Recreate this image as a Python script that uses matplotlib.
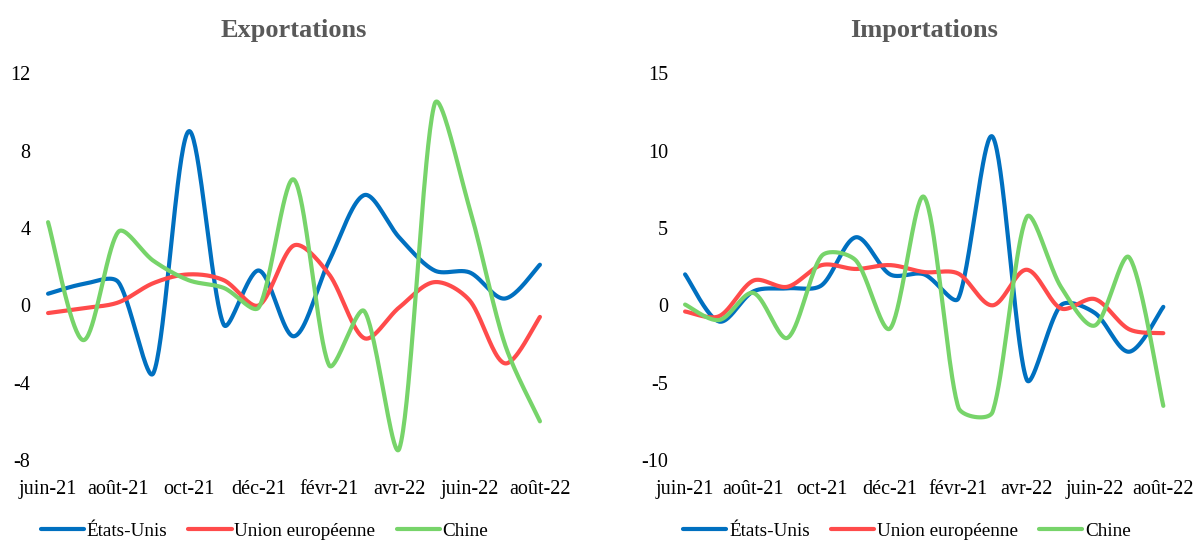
import numpy as np
import matplotlib
matplotlib.use("Agg")
import matplotlib.pyplot as plt

months = ["juin-21", "juil-21", "août-21", "sept-21", "oct-21", "nov-21", "déc-21",
          "janv-22", "févr-21", "mars-22", "avr-22", "mai-22", "juin-22", "juil-22", "août-22"]
tick_labels = ["juin-21", "août-21", "oct-21", "déc-21", "févr-21", "avr-22", "juin-22", "août-22"]
series_names = ["États-Unis", "Union européenne", "Chine"]

exp_us = [0.6, 1.1, 1.2, -3.5, 9.0, -1.0, 1.8, -1.6, 2.3, 5.7, 3.5, 1.8, 1.7, 0.35, 2.1]
exp_eu = [-0.4, -0.15, 0.15, 1.15, 1.6, 1.3, 0.0, 3.1, 1.6, -1.7, -0.1, 1.2, 0.25, -3.0, -0.6]
exp_cn = [4.3, -1.8, 3.8, 2.3, 1.3, 0.9, -0.1, 6.5, -3.1, -0.3, -7.4, 10.4, 5.0, -2.0, -6.0]

imp_us = [2.0, -1.05, 0.9, 1.1, 1.3, 4.4, 2.0, 2.0, 0.45, 10.9, -4.8, 0.0, -0.5, -3.0, -0.1]
imp_eu = [-0.4, -0.7, 1.6, 1.2, 2.6, 2.35, 2.6, 2.15, 2.05, 0.0, 2.3, -0.2, 0.4, -1.55, -1.8]
imp_cn = [0.05, -0.95, 0.8, -2.1, 3.2, 2.9, -1.5, 7.0, -6.6, -6.9, 5.7, 1.2, -1.3, 3.1, -6.5]

colors = ["#0070C0", "#FF4B4B", "#77D46A"]

plt.rcParams['font.family'] = ['Liberation Serif', 'DejaVu Serif']


def smooth_screen(ax, y, n=40):
    """Excel-like smoothed line: cubic Bezier through the points, built in pixel space."""
    y = np.asarray(y, float)
    x = np.arange(len(y), dtype=float)
    P = ax.transData.transform(np.column_stack([x, y]))
    N = len(P)
    L = np.linalg.norm(np.diff(P, axis=0), axis=1)
    D = np.zeros_like(P)
    D[1:-1] = P[2:] - P[:-2]
    D[0] = (P[1] - P[0])
    D[-1] = (P[-1] - P[-2])
    out = [P[0:1]]
    for i in range(N - 1):
        sf = 1.0 if i == 0 else min(1.0, 2 * L[i] / (L[i - 1] + L[i]))
        sb = 1.0 if i == N - 2 else min(1.0, 2 * L[i] / (L[i] + L[i + 1]))
        C1 = P[i] + D[i] / 6 * sf
        C2 = P[i + 1] - D[i + 1] / 6 * sb
        t = np.linspace(0, 1, n)[1:, None]
        B = ((1 - t) ** 3) * P[i] + 3 * ((1 - t) ** 2) * t * C1 + 3 * (1 - t) * t ** 2 * C2 + t ** 3 * P[i + 1]
        out.append(B)
    pts = np.vstack(out)
    d = ax.transData.inverted().transform(pts)
    return d[:, 0], d[:, 1]


fig = plt.figure(figsize=(12, 5.42), dpi=100)
W, H = 1200, 542

def make_ax(left, right, top, bottom):
    return fig.add_axes([left / W, 1 - bottom / H, (right - left) / W, (bottom - top) / H])

ax1 = make_ax(30.5, 557.5, 73.3, 460)
ax2 = make_ax(668, 1180.4, 73.3, 460)

panels = [
    (ax1, "Exportations", [exp_us, exp_eu, exp_cn], (-8, 12), np.arange(-8, 13, 4)),
    (ax2, "Importations", [imp_us, imp_eu, imp_cn], (-10, 15), np.arange(-10, 16, 5)),
]

for ax, title, data, ylim, yticks in panels:
    ax.set_xlim(-0.5, len(months) - 0.5)
    ax.set_ylim(*ylim)
    for vals, c, name in zip(data, colors, series_names):
        xs, ys = smooth_screen(ax, vals)
        ax.plot(xs, ys, color=c, lw=3.0, solid_capstyle='round', label=name)
    ax.set_xlim(-0.5, len(months) - 0.5)
    ax.set_ylim(*ylim)
    ax.set_yticks(yticks)
    ax.set_yticklabels([str(v) for v in yticks])
    ax.set_xticks(np.arange(0, len(months), 2))
    ax.set_xticklabels(tick_labels)
    for s in ax.spines.values():
        s.set_visible(False)
    ax.tick_params(axis='both', length=0, labelsize=14.5, colors='black')
    ax.tick_params(axis='x', pad=14.5)
    ax.tick_params(axis='y', pad=0)
    ax.set_title(title, fontsize=19, fontweight='bold', color='#595959', pad=26.3)

leg_kw = dict(ncol=3, frameon=False, fontsize=13.8, handlelength=2.25,
              handletextpad=0.15, columnspacing=1.1, loc='center')
ax1.legend(bbox_to_anchor=(264.5 / W, 1 - 531 / H), bbox_transform=fig.transFigure, **leg_kw)
ax2.legend(bbox_to_anchor=(907 / W, 1 - 531 / H), bbox_transform=fig.transFigure, **leg_kw)

fig.savefig("out.png", dpi=100)
